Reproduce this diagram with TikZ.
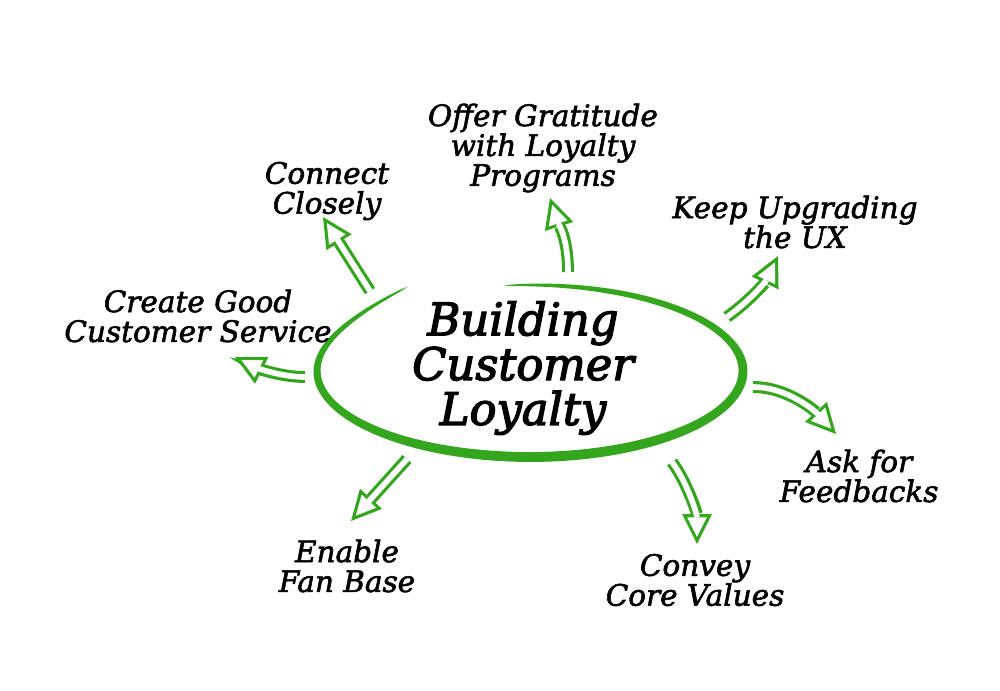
\documentclass[tikz,border=0pt]{standalone}
\usepackage{fontspec}
\setmainfont{DejaVu Serif}
\newfontface\heavyital{DejaVu Serif Italic}[FakeBold=2]
\newfontface\titleital{DejaVu Serif Italic}[FakeBold=3]
\usetikzlibrary{arrows.meta}
\definecolor{leafgreen}{RGB}{52,166,30}

\tikzset{
  lbl/.style={align=center, inner sep=0pt, font=\heavyital\fontsize{16.8}{17}\selectfont},
  headline/.style={align=center, inner sep=0pt, font=\titleital\fontsize{25.5}{25.5}\selectfont},
  arrowouter/.style={leafgreen, line width=6.8pt, -{Triangle[length=17pt,width=17pt,line width=0pt]}},
  arrowinner/.style={white, line width=3.2pt, shorten >=4.1pt, -{Triangle[length=11.1pt,width=11.1pt,line width=0pt]}},
  declare function={ew(\t)=5*sqrt(abs(sin((97-\t)*0.54217)));
                    eu(\t)=max(0,(-180-\t)/50);
                    ey(\t)=14*eu(\t)*eu(\t);}
}
% hollow arrow: green outline, white inside
\newcommand{\hollowarrow}[1]{\draw[arrowouter] #1; \draw[arrowinner] #1;}

\begin{document}
\begin{tikzpicture}[x=0.02cm,y=-0.02cm]
\useasboundingbox (0,0) rectangle (1000,690);

% centre
\node[headline] (title) at (523,368) {Building\\Customer\\Loyalty};
\fill[leafgreen] plot[domain=0:332, samples=140, smooth]
    ({530+(213+ew(97-\x))*cos(97-\x)},{371-(86+ey(97-\x)+ew(97-\x))*sin(97-\x)})
  -- plot[domain=0:332, samples=140, smooth]
    ({530+(213-ew(\x-235))*cos(\x-235)},{371-(86+ey(\x-235)-ew(\x-235))*sin(\x-235)})
  -- cycle;

% labels
\node[lbl] (offer) at (543,148) {Offer Gratitude\\with Loyalty\\Programs};
\node[lbl] (connect) at (327,191) {Connect\\Closely};
\node[lbl] (upgrade) at (795,222) {Keep Upgrading\\the UX};
\node[lbl] (service) at (198,316) {Create Good\\Customer Service};
\node[lbl] (feedback) at (859,476) {Ask for\\Feedbacks};
\node[lbl] (values) at (695,580) {Convey\\Core Values};
\node[lbl] (fanbase) at (347,566) {Enable\\Fan Base};

% arrow ends
\coordinate (connect-tail) at (370,291);
\coordinate (connect-tip) at (323,217);
\coordinate (offer-tail) at (568,272);
\coordinate (offer-tip) at (550,198);
\coordinate (upgrade-tail) at (727,317);
\coordinate (upgrade-tip) at (778,256);
\coordinate (service-tail) at (305,377);
\coordinate (service-tip) at (235,357);
\coordinate (feedback-tail) at (753,387);
\coordinate (feedback-tip) at (836,434);
\coordinate (values-tail) at (672,462);
\coordinate (values-tip) at (697,544);
\coordinate (fanbase-tail) at (407,459);
\coordinate (fanbase-tip) at (351,521);

\hollowarrow{(connect-tail) -- (connect-tip)}
\hollowarrow{(offer-tail) .. controls +(0,-35) and +(8,25) .. (offer-tip)}
\hollowarrow{(upgrade-tail) .. controls +(25,-18) and +(-12,25) .. (upgrade-tip)}
\hollowarrow{(service-tail) .. controls +(-25,0) and +(20,10) .. (service-tip)}
\hollowarrow{(feedback-tail) .. controls +(35,0) and +(-20,-22) .. (feedback-tip)}
\hollowarrow{(values-tail) .. controls +(15,20) and +(0,-30) .. (values-tip)}
\hollowarrow{(fanbase-tail) -- (fanbase-tip)}
\end{tikzpicture}
\end{document}
